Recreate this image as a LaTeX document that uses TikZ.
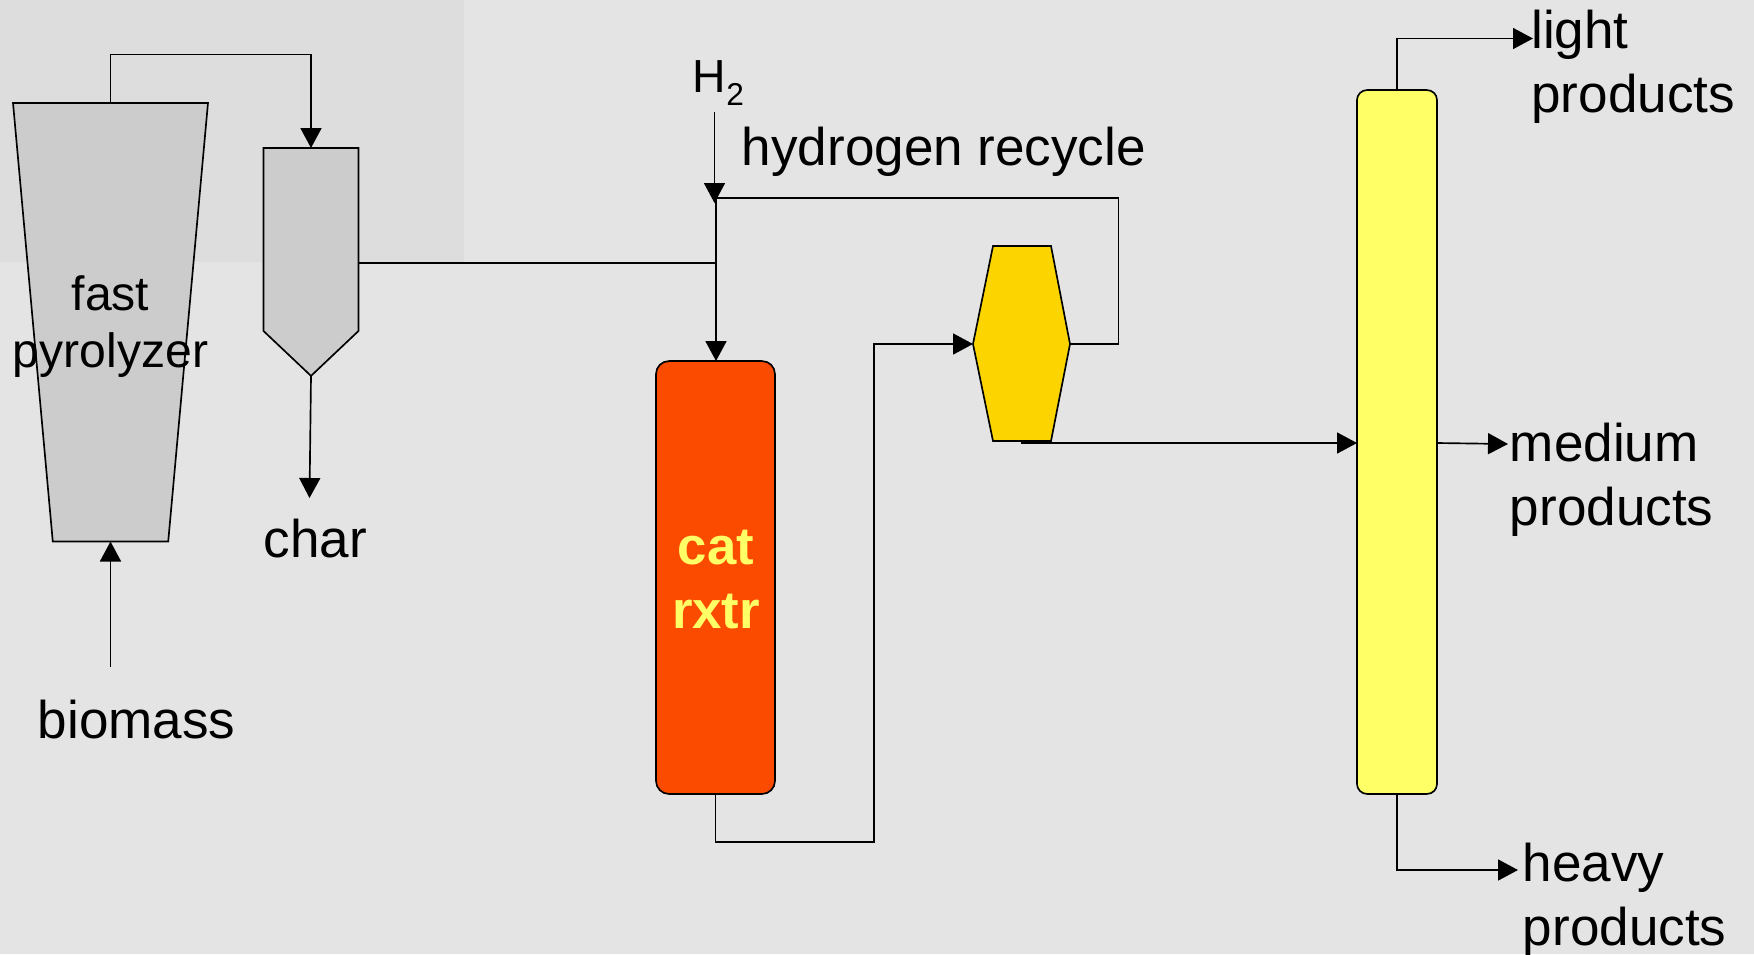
\documentclass[tikz,border=0pt]{standalone}
\usepackage{fontspec}
\setmainfont{Liberation Sans}
\usetikzlibrary{arrows.meta,shapes.geometric,shapes.symbols}
\definecolor{bgpage}{HTML}{E4E4E4}
\definecolor{bgpatch}{HTML}{DDDDDD}
\definecolor{vesselgray}{HTML}{CCCCCC}
\definecolor{rxtrorange}{HTML}{FA4B00}
\definecolor{sepyellow}{HTML}{FCD500}
\definecolor{columnyellow}{HTML}{FFFF66}
\begin{document}
\begin{tikzpicture}[
            x=0.02cm,
            y=-0.02cm,
            vessel/.style={
                draw=black,
                line width=0.95pt,
                outer sep=0pt,
                inner sep=0pt
            },
            label/.style={
                inner sep=0pt,
                anchor=base west,
                align=left,
                font=\fontsize{30.2}{36.4}\selectfont
            },
            line/.style={line width=0.95pt},
            arrow/.style={-{Triangle[length=0.4cm,width=0.42cm]}, line width=0.95pt}
        ]
        \useasboundingbox (0,0) rectangle (1754,954);

        % Background
        \fill[bgpage] (0,0) rectangle (1754,954);
        \fill[bgpatch] (0,0) rectangle (464,262);

        % Vessels
        \node[vessel, inner sep=1pt, trapezium, fill=vesselgray, trapezium stretches=true, shape border rotate=180,
            trapezium left angle=71, trapezium right angle=71,
            minimum width=3.9cm, minimum height=8.77cm] (pyro) at (110.5,322.25) {};
        \node[vessel, signal, signal to=south, signal from=nowhere, signal pointer angle=93.2, fill=vesselgray,
            minimum width=1.9cm, minimum height=3.66cm] (cyclone) at (311,239.5) {};
        \node[vessel, rectangle, rounded corners=0.26cm, fill=rxtrorange,
            minimum width=2.38cm, minimum height=8.66cm] (rxtr) at (715.5,577.5) {};
        \node[vessel, rectangle, rounded corners=0.2cm, fill=columnyellow,
            minimum width=1.6cm, minimum height=14.08cm] (column) at (1397,442) {};

        % Separator hexagon
        \coordinate (sepwest) at (973,344);
        \coordinate (sepeast) at (1070,344);
        \draw[vessel, fill=sepyellow] (993,246) -- (1051,246) -- (sepeast) -- (1051,441) -- (993,441) -- (sepwest) -- cycle;

        % Vessel texts
        \node[inner sep=0pt, align=center, font=\fontsize{27.4}{32.4}\selectfont] (pyrotext) at (110.5,326.5) {fast\\pyrolyzer};
        \node[inner sep=0pt, align=center, text=columnyellow, font=\fontsize{30}{36.4}\selectfont\bfseries] (rxtrtext) at (716,580) {cat\\rxtr};

        % Stream labels
        \node[label] (char) at (263.5,557) {char};
        \node[label] (biomass) at (37.5,738) {biomass};
        \node[label, font=\fontsize{26.4}{30}\selectfont] (hydrogen) at (692.5,92) {H\raisebox{-0.26cm}{\fontsize{18}{20}\selectfont 2}};
        \node[label] (recycle) at (741.5,165) {hydrogen recycle};
        \node[label] (light) at (1531,112) {light\\products};
        \node[label] (medium) at (1509.5,525) {medium\\products};
        \node[label] (heavy) at (1522.5,945) {heavy\\products};

        % Free ends and junctions
        \coordinate (h2start) at (714.5,112);
        \coordinate (h2tip) at (714.5,203);
        \coordinate (merge) at (716,198);
        \coordinate (crossing) at (716,263);
        \coordinate (chartip) at (309.5,498);
        \coordinate (biostart) at (110.5,667);
        \coordinate (lighttip) at (1533,38.5);
        \coordinate (mediumtip) at (1508,444);
        \coordinate (heavytip) at (1518,870);
        \coordinate (sepout) at (1021,443);

        % Connecting lines
        \draw[arrow] (pyro.north) -- ++(0,-48.5) -| (cyclone.north);
        \draw[arrow] (cyclone.south) -- (chartip);
        \draw[arrow] (biostart) -- (pyro.south);
        \draw[line] (cyclone.east |- crossing) -- (crossing);
        \draw[arrow] (h2start) -- (h2tip);
        \draw[arrow] (merge) -- (rxtr.north -| merge);
        \draw[line] (merge) -- ++(402.5,0) |- (sepeast);
        \draw[arrow] (rxtr.south) -- ++(0,48) -- ++(158.5,0) |- (sepwest);
        \draw[arrow] (sepout) -- (column.west |- sepout);
        \draw[arrow] (column.north) |- (lighttip);
        \draw[arrow] (column.east |- sepout) -- (mediumtip);
        \draw[arrow] (column.south) |- (heavytip);

        \end{tikzpicture}
\end{document}
